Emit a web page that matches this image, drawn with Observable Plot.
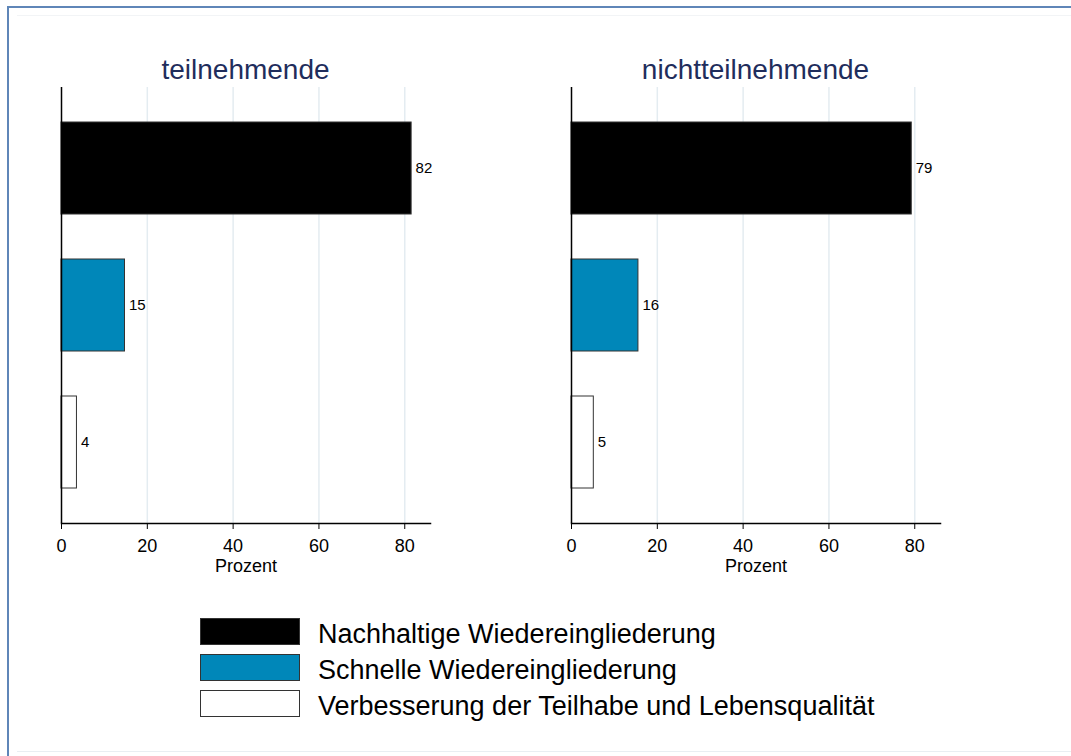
<!DOCTYPE html>
<html>
<head>
<meta charset="utf-8">
<script src="https://cdn.jsdelivr.net/npm/d3@7"></script>
<script src="https://cdn.jsdelivr.net/npm/@observablehq/plot@0.6"></script>
<style>
  html, body { margin: 0; padding: 0; background: #fff; }
  body { font-family: "Liberation Sans", Arial, sans-serif; }
  #root { position: relative; width: 1071px; height: 756px; overflow: hidden; background: #fff; }
  .border { position: absolute; left: 7px; top: 6px; width: 1100px; height: 800px;
            border-top: 2px solid #5f86b8; border-left: 2px solid #5f86b8; box-sizing: border-box; }
  .inner-top { position: absolute; left: 17px; top: 15px; width: 1060px; height: 1px; background: #f2f4f6; }
  .inner-bottom { position: absolute; left: 17px; top: 751px; width: 1060px; height: 1px; background: #e9eef2; }
  .panel { position: absolute; top: 0; }
  .title { position: absolute; top: 54px; font-size: 28px; line-height: 32px; color: #1f2d5c; text-align: center; width: 300px; }
  .legend { position: absolute; left: 200px; top: 618px; }
  .legend .row { position: absolute; left: 0; height: 28px; white-space: nowrap; }
  .legend .sw { position: absolute; left: 0; top: 0; width: 100px; height: 27px; box-sizing: border-box; border: 1px solid #333; }
  .legend .lab { position: absolute; left: 118px; top: 2px; font-size: 27px; line-height: 28px; color: #000; }
</style>
</head>
<body>
<div id="root">
  <div class="border"></div>
  <div class="inner-top"></div>
  <div class="inner-bottom"></div>
</div>
<script>
const categories = ["Nachhaltige Wiedereingliederung", "Schnelle Wiedereingliederung", "Verbesserung der Teilhabe und Lebensqualität"];
const groups = ["teilnehmende", "nichtteilnehmende"];
const teilnehmende = [81.6, 14.8, 3.6];
const nichtteilnehmende = [79.3, 15.6, 5.2];
const xTicks = [0, 20, 40, 60, 80];
const gridTicks = [20, 40, 60, 80];
const axisLabel = "Prozent";
const barColors = ["#000000", "#0087b9", "#ffffff"];

const seriesByGroup = { teilnehmende, nichtteilnehmende };
const root = document.getElementById("root");
const panelLeft = [0, 510];

groups.forEach((g, gi) => {
  const data = categories.map((c, i) => ({ cat: c, value: seriesByGroup[g][i] }));
  const chart = Plot.plot({
    width: 460,
    height: 590,
    marginTop: 87,
    marginBottom: 67,
    marginLeft: 61,
    marginRight: 30,
    style: { fontFamily: "Liberation Sans, Arial, sans-serif", background: "transparent", color: "#000" },
    x: { domain: [0, 86], ticks: xTicks },
    y: { domain: categories, padding: 0.33, paddingOuter: 0.25, axis: null },
    color: { domain: categories, range: barColors },
    marks: [
      Plot.gridX(gridTicks, { stroke: "#e4ecf1", strokeOpacity: 1, strokeWidth: 1.5 }),
      Plot.barX(data, { x: "value", y: "cat", fill: "cat", stroke: "#333", strokeWidth: 1 }),
      Plot.text(data, { x: "value", y: "cat", text: d => String(Math.round(d.value)), dx: 4, textAnchor: "start", fontSize: 15 }),
      Plot.ruleX([0], { stroke: "#000", strokeWidth: 1.5 }),
      Plot.frame({ anchor: "bottom", stroke: "#000", strokeWidth: 1.5 }),
      Plot.axisX(xTicks, { tickSize: 6, tickPadding: 10, fontSize: 18, label: axisLabel, labelAnchor: "center", labelArrow: "none", labelOffset: 48 })
    ]
  });
  const wrap = document.createElement("div");
  wrap.className = "panel";
  wrap.style.left = panelLeft[gi] + "px";
  wrap.appendChild(chart);
  root.appendChild(wrap);

  const t = document.createElement("div");
  t.className = "title";
  t.textContent = g;
  t.style.left = (panelLeft[gi] + 61 + (430 - 61) / 2 - 150) + "px";
  root.appendChild(t);
});

const legend = document.createElement("div");
legend.className = "legend";
categories.forEach((c, i) => {
  const row = document.createElement("div");
  row.className = "row";
  row.style.top = [0, 36, 72][i] + "px";
  const sw = document.createElement("div");
  sw.className = "sw";
  sw.style.background = barColors[i];
  const lab = document.createElement("div");
  lab.className = "lab";
  lab.textContent = c;
  row.appendChild(sw);
  row.appendChild(lab);
  legend.appendChild(row);
});
root.appendChild(legend);
</script>
</body>
</html>
